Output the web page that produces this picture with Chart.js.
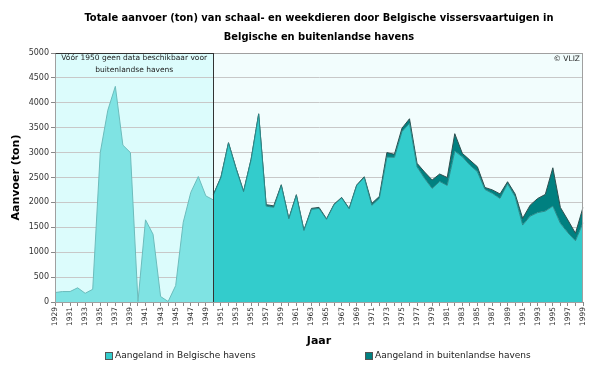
<!DOCTYPE html>
<html lang="nl">
<head>
    <meta charset="UTF-8">
    <title>Totale aanvoer schaal- en weekdieren</title>
    <script src="https://cdn.jsdelivr.net/npm/chart.js"></script>
    <style>
        html, body { margin: 0; padding: 0; background: #fff; }
        .chart-wrapper { width: 600px; height: 368px; }
    </style>
</head>
<body>
    <div class="chart-wrapper">
        <canvas id="aanvoerChart" width="600" height="368"></canvas>
    </div>

    <script>
        // jaren op de x-as
        const years = [
            '1929','1930','1931','1932','1933','1934','1935','1936','1937','1938',
            '1939','1940','1941','1942','1943','1944','1945','1946','1947','1948',
            '1949','1950','1951','1952','1953','1954','1955','1956','1957','1958',
            '1959','1960','1961','1962','1963','1964','1965','1966','1967','1968',
            '1969','1970','1971','1972','1973','1974','1975','1976','1977','1978',
            '1979','1980','1981','1982','1983','1984','1985','1986','1987','1988',
            '1989','1990','1991','1992','1993','1994','1995','1996','1997','1998',
            '1999'
        ];

        // 1929 - 1950 (geen opsplitsing beschikbaar)
        const pre1950Values = [
            190, 210, 210, 285, 175, 255, 3000, 3850, 4330, 3150,
            3000, 10, 1650, 1360, 110, 10, 330, 1600, 2200, 2520,
            2130, 2050
        ];

        // 1950 - 1999
        const belgianValues = [
            2150, 2500, 3190, 2680, 2215, 2860, 3770, 1925, 1900, 2340,
            1670, 2140, 1435, 1860, 1880, 1660, 1955, 2090, 1870, 2340,
            2500, 1940, 2080, 2910, 2905, 3420, 3590, 2715, 2480, 2280,
            2420, 2340, 3030, 2915, 2750, 2615, 2260, 2180, 2080, 2375,
            2115, 1545, 1725, 1795, 1825, 1925, 1580, 1390, 1230, 1590
        ];

        const foreignValues = [
            10, 10, 10, 10, 10, 10, 10, 30, 30, 15,
            10, 15, 10, 20, 20, 10, 10, 10, 10, 10,
            15, 40, 40, 90, 60, 70, 90, 70, 130, 170,
            150, 160, 350, 70, 100, 100, 40, 70, 90, 40,
            55, 135, 220, 285, 335, 770, 320, 255, 150, 310
        ];

        const yTicks = [0, 500, 1000, 1500, 2000, 2500, 3000, 3500, 4000, 4500, 5000];

        const seriesNames = ['Aangeland in Belgische havens', 'Aangeland in buitenlandse havens'];
        const seriesColors = ['#33cccc', '#008080'];

        // reeksen op de volledige jaren-as zetten
        const start1950 = years.indexOf('1950');
        const preData = years.map((y, i) => i < pre1950Values.length ? pre1950Values[i] : null);
        const belData = years.map((y, i) => i >= start1950 ? belgianValues[i - start1950] : null);
        const forData = years.map((y, i) => i >= start1950 ? foreignValues[i - start1950] : null);

        const FONT = '"DejaVu Sans", sans-serif';

        // achtergrond, teksten en legende
        const decor = {
            id: 'decor',
            beforeDraw(chart) {
                const { ctx, chartArea: a, scales } = chart;
                const x50 = scales.x.getPixelForValue(start1950);
                ctx.save();
                ctx.fillStyle = '#f2fdfd';
                ctx.fillRect(a.left, a.top, a.right - a.left, a.bottom - a.top);
                ctx.fillStyle = '#dcfcfc';
                ctx.fillRect(a.left, a.top, x50 - a.left, a.bottom - a.top);
                ctx.restore();
            },
            afterDraw(chart) {
                const { ctx, chartArea: a, scales } = chart;
                const x50 = scales.x.getPixelForValue(start1950);
                const cx = (a.left + a.right) / 2;
                ctx.save();

                // randen
                ctx.strokeStyle = '#a0a0a0';
                ctx.lineWidth = 1;
                ctx.strokeRect(a.left + 0.5, a.top + 0.5, a.right - a.left - 1, a.bottom - a.top);
                ctx.strokeStyle = '#333';
                ctx.beginPath();
                ctx.moveTo(Math.round(x50) + 0.5, a.top);
                ctx.lineTo(Math.round(x50) + 0.5, a.bottom);
                ctx.moveTo(a.left + 0.5, a.top + 0.5);
                ctx.lineTo(Math.round(x50) + 0.5, a.top + 0.5);
                ctx.stroke();

                // titel
                ctx.fillStyle = '#000';
                ctx.textAlign = 'center';
                ctx.textBaseline = 'middle';
                ctx.font = 'bold 11px "DejaVu Sans Condensed", "DejaVu Sans", sans-serif';
                ctx.fillText('Totale aanvoer (ton) van schaal- en weekdieren door Belgische vissersvaartuigen in', cx, 18);
                ctx.fillText('Belgische en buitenlandse havens', cx, 37);

                // opmerking voor 1950
                ctx.font = '7.5px ' + FONT;
                ctx.fillStyle = '#222';
                const bx = (a.left + x50) / 2;
                ctx.fillText('Vóór 1950 geen data beschikbaar voor', bx, a.top + 5);
                ctx.fillText('buitenlandse havens', bx, a.top + 17);
                ctx.textAlign = 'right';
                ctx.fillText('© VLIZ', a.right - 3, a.top + 6);

                // legende
                ctx.textAlign = 'left';
                ctx.font = '9px ' + FONT;
                const legX = [105, 365];
                const legY = 356;
                seriesNames.forEach((name, i) => {
                    ctx.fillStyle = seriesColors[i];
                    ctx.fillRect(legX[i], legY - 4, 7, 7);
                    ctx.strokeStyle = '#555';
                    ctx.strokeRect(legX[i] + 0.5, legY - 3.5, 7, 7);
                    ctx.fillStyle = '#222';
                    ctx.fillText(name, legX[i] + 10, legY);
                });
                ctx.restore();
            }
        };

        const ctx = document.getElementById('aanvoerChart').getContext('2d');
        new Chart(ctx, {
            type: 'line',
            data: {
                labels: years,
                datasets: [
                    {
                        label: 'Voor 1950',
                        data: preData,
                        stack: 'pre',
                        backgroundColor: '#7fe3e3',
                        borderColor: '#6cbcbc',
                        borderWidth: 1,
                        fill: 'origin',
                        pointRadius: 0,
                        tension: 0
                    },
                    {
                        label: seriesNames[0],
                        data: belData,
                        stack: 'post',
                        backgroundColor: seriesColors[0],
                        borderColor: '#2a8a8a',
                        borderWidth: 1,
                        fill: 'origin',
                        pointRadius: 0,
                        tension: 0
                    },
                    {
                        label: seriesNames[1],
                        data: forData,
                        stack: 'post',
                        backgroundColor: seriesColors[1],
                        borderColor: '#2f4f4f',
                        borderWidth: 1,
                        fill: '-1',
                        pointRadius: 0,
                        tension: 0
                    }
                ]
            },
            options: {
                responsive: false,
                animation: false,
                layout: { padding: { left: 0, right: 17, top: 53, bottom: 18 } },
                plugins: {
                    legend: { display: false },
                    title: { display: false },
                    tooltip: { enabled: false }
                },
                scales: {
                    x: {
                        offset: false,
                        grid: { drawOnChartArea: false, tickLength: 4, color: '#888' },
                        border: { color: '#888' },
                        ticks: {
                            autoSkip: false,
                            minRotation: 90,
                            maxRotation: 90,
                            padding: 1,
                            color: '#333',
                            font: { family: FONT, size: 7.5 },
                            callback: function (value, index) {
                                return index % 2 === 0 ? this.getLabelForValue(value) : '';
                            }
                        },
                        title: {
                            display: true,
                            text: 'Jaar',
                            color: '#000',
                            font: { family: FONT, size: 11, weight: 'bold' },
                            padding: { top: 0, bottom: 2 }
                        },
                        afterFit: scale => { scale.height = 48; }
                    },
                    y: {
                        stacked: true,
                        min: 0,
                        max: 5000,
                        afterBuildTicks: scale => { scale.ticks = yTicks.map(v => ({ value: v })); },
                        grid: { color: '#c8c8c8', tickLength: 4, tickColor: '#888' },
                        border: { color: '#888' },
                        ticks: {
                            padding: 2,
                            color: '#333',
                            font: { family: FONT, size: 8 },
                            callback: v => String(v)
                        },
                        title: {
                            display: true,
                            text: 'Aanvoer (ton)',
                            color: '#000',
                            font: { family: FONT, size: 11, weight: 'bold' },
                            padding: { top: 10, bottom: 0 }
                        },
                        afterFit: scale => { scale.width = 55; }
                    }
                }
            },
            plugins: [decor]
        });
    </script>
</body>
</html>
